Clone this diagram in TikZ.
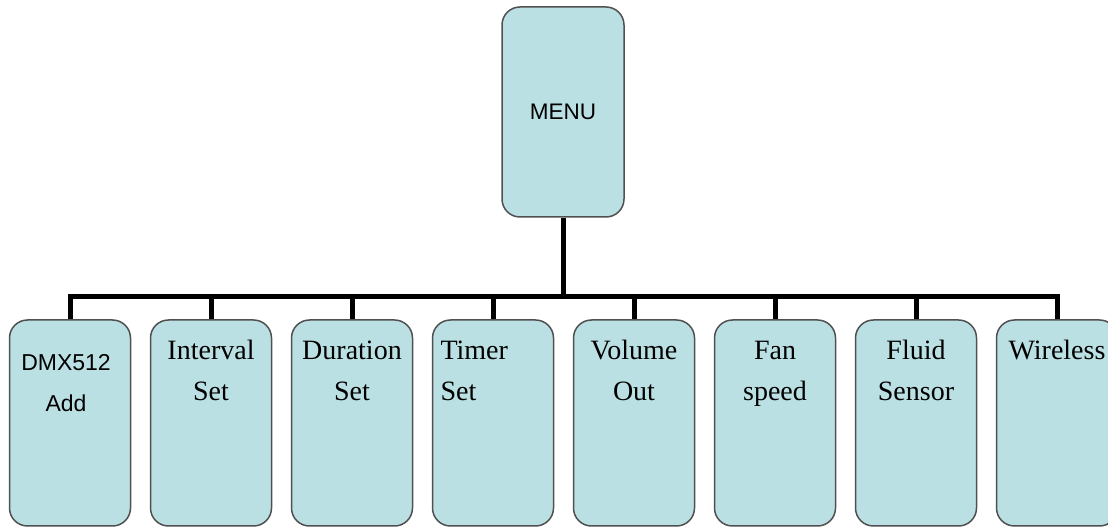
\documentclass[tikz,border=0pt]{standalone}
\usepackage{fontspec}
\setmainfont{Liberation Serif}
\newfontfamily\sansfont{Liberation Sans}
\usepackage{tikz}
\definecolor{boxfill}{HTML}{BBE0E3}
\definecolor{boxline}{HTML}{505050}
\newcommand{\subtext}[1]{\parbox[c][206pt][t]{121pt}{\fontsize{28}{41}\selectfont #1}}

\begin{document}
\begin{tikzpicture}[x=1pt,y=1pt]
		\tikzset{menubox/.style = {draw=boxline, fill=boxfill, line width=1.5pt, rounded corners=18pt, inner sep=0pt}}
		\tikzset{link/.style = {line width=5pt}}

		\useasboundingbox (0,0) rectangle (1108,527);
		\clip (0,0) rectangle (1108,527);

		\node[menubox, minimum width=122pt, minimum height=210pt, font=\sansfont\fontsize{22.5}{26}\selectfont] (M) at (563,415) {MENU};

		\node[menubox] (S_1) at (70,104) {\subtext{\centering\rightskip=8pt plus 1fil\sansfont\fontsize{23}{41}\selectfont\rule{0pt}{51pt}DMX512\\Add}};
		\node[menubox] (S_2) at (211,104) {\subtext{\centering\rule{0pt}{40pt}Interval\\Set}};
		\node[menubox] (S_3) at (352,104) {\subtext{\centering\rule{0pt}{40pt}Duration\\Set}};
		\node[menubox] (S_4) at (493,104) {\subtext{\raggedright\leftskip=8pt\rule{0pt}{40pt}Timer\\Set}};
		\node[menubox] (S_5) at (634,104) {\subtext{\centering\rule{0pt}{40pt}Volume\\Out}};
		\node[menubox] (S_6) at (775,104) {\subtext{\centering\rule{0pt}{40pt}Fan\\speed}};
		\node[menubox] (S_7) at (916,104) {\subtext{\centering\rule{0pt}{40pt}Fluid\\Sensor}};
		\node[menubox] (S_8) at (1057,104) {\subtext{\centering\rule{0pt}{40pt}Wireless}};

		\coordinate (J) at (563,230);

		\draw[link] (M) to (J);
		\foreach \i in {1,...,8}
			\draw[link] (J) -| (S_\i.north);

	\end{tikzpicture}
\end{document}
